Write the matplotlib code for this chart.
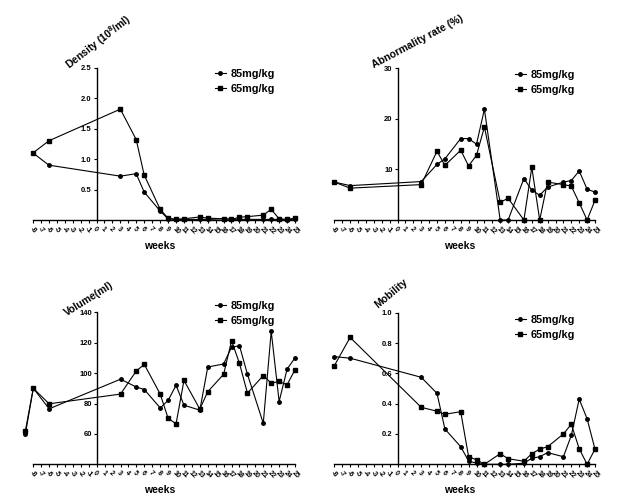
import matplotlib.pyplot as plt

plt.rcParams['font.family'] = ['Liberation Sans', 'DejaVu Sans']
plt.rcParams['font.weight'] = 'bold'
plt.rcParams['axes.unicode_minus'] = False
plt.rcParams['mathtext.fontset'] = 'custom'
plt.rcParams['mathtext.rm'] = 'Liberation Sans:bold'
plt.rcParams['mathtext.bf'] = 'Liberation Sans:bold'

weeks = [-8, -6, 3, 5, 6, 8, 9, 10, 11, 13, 14, 16, 17, 18, 19, 21, 22, 23, 24, 25]
volume_weeks = [-9] + weeks
tick_weeks = list(range(-8, 26))

density_85 = [1.1, 0.9, 0.72, 0.76, 0.46, 0.15, 0.02, 0.01, 0.01, 0.01, 0.01,
              0.02, 0.01, 0.01, 0.01, 0.01, 0.01, 0.01, 0.0, 0.02]
density_65 = [1.1, 1.3, 1.82, 1.32, 0.74, 0.18, 0.03, 0.01, 0.02, 0.05, 0.03,
              0.02, 0.01, 0.045, 0.055, 0.08, 0.175, 0.02, 0.01, 0.03]

abnorm_85 = [7.5, 6.8, 7.6, 11.0, 12.1, 16.1, 16.1, 15.0, 21.9, 0, 0,
             8.2, 5.9, 4.9, 6.5, 7.5, 7.8, 9.7, 6.1, 5.5]
abnorm_65 = [7.5, 6.3, 7.0, 13.6, 10.8, 13.8, 10.7, 12.8, 18.4, 3.5, 4.3,
             0, 10.4, 0, 7.5, 7.0, 6.7, 3.4, 0, 3.9]

volume_85 = [60, 90, 76.5, 96, 90.8, 89.2, 77.1, 82, 92, 78.9, 75.6, 104,
             106, 117, 118, 99.3, 67, 127.5, 81.3, 102.6, 110]
volume_65 = [62, 90, 79.8, 86.2, 101.5, 105.7, 86.2, 70.3, 66.6, 95.2, 76.3, 87.8,
             99.2, 121.3, 106.4, 86.8, 98.4, 93.4, 94.5, 92.3, 102.2]

mobility_85 = [0.71, 0.70, 0.574, 0.468, 0.233, 0.116, 0.022, 0.007, 0, 0, 0,
               0.007, 0.04, 0.05, 0.077, 0.05, 0.19, 0.43, 0.3, 0.1]
mobility_65 = [0.65, 0.837, 0.376, 0.35, 0.33, 0.347, 0.05, 0.03, 0, 0.07, 0.037,
               0.02, 0.07, 0.1, 0.116, 0.2, 0.264, 0.103, 0, 0.1]

W, H = 617, 504
fig = plt.figure(figsize=(W / 100, H / 100), dpi=100)


def panel(rect, x, y85, y65, ylim, yticks, ylabel, lab_xy, lab_rot, weeks_xy, leg_xy):
    l, t, r, b = rect
    ax = fig.add_axes([l / W, 1 - b / H, (r - l) / W, (b - t) / H])
    ax.plot(x, y85, color='black', lw=0.8, marker='o', ms=2.5, label='85mg/kg', clip_on=False)
    ax.plot(x, y65, color='black', lw=0.8, marker='s', ms=2.8, label='65mg/kg', clip_on=False)
    ax.set_xlim(-8, 25)
    ax.set_ylim(*ylim)
    for s in ['top', 'right']:
        ax.spines[s].set_visible(False)
    ax.spines['left'].set_position(('data', 0))
    ax.spines['left'].set_bounds(ylim[0], ylim[1])
    ax.spines['left'].set_linewidth(1.0)
    ax.spines['bottom'].set_linewidth(1.0)
    ax.set_xticks(tick_weeks)
    ax.set_xticklabels([str(w) for w in tick_weeks], rotation=-45, ha='left',
                       rotation_mode='anchor', fontsize=5)
    ax.set_yticks(yticks)
    ax.set_yticklabels([str(v) for v in yticks], fontsize=5.5)
    ax.tick_params(axis='x', length=2.5, width=0.8, pad=1.5)
    ax.tick_params(axis='y', length=2.5, width=0.8, pad=1)
    fig.text(lab_xy[0] / W, 1 - lab_xy[1] / H, ylabel, rotation=lab_rot, fontsize=7.5,
             fontweight='bold', ha='center', va='center', rotation_mode='anchor')
    fig.text(weeks_xy[0] / W, 1 - weeks_xy[1] / H, 'weeks', fontsize=7.5,
             fontweight='bold', ha='center', va='center')
    ax.legend(loc='upper left', bbox_to_anchor=(leg_xy[0] / W, 1 - leg_xy[1] / H),
              bbox_transform=fig.transFigure, frameon=False, fontsize=7.8,
              handlelength=1.0, handletextpad=0.4, borderpad=0, borderaxespad=0,
              labelspacing=0.45)
    return ax


panel((33, 67.7, 295, 220), weeks, density_85, density_65, (0, 2.5),
      [0.5, 1.0, 1.5, 2.0, 2.5], r'Density (10$^{8}$/ml)', (99, 42), 38,
      (160, 246), (215, 69))
panel((334.3, 68.3, 595, 220), weeks, abnorm_85, abnorm_65, (0, 30),
      [10, 20, 30], 'Abnormality rate (%)', (418, 42), 28,
      (460, 246), (515, 70))
panel((33.3, 312.3, 295, 464.3), volume_weeks, volume_85, volume_65, (40, 140),
      [60, 80, 100, 120, 140], 'Volume(ml)', (89, 299), 32,
      (160, 490), (215, 301))
panel((334.3, 312.7, 595, 464.3), weeks, mobility_85, mobility_65, (0, 1.0),
      [0.2, 0.4, 0.6, 0.8, 1.0], 'Mobility', (391, 293), 40,
      (460, 490), (515, 315))

fig.savefig('out.png', dpi=100)
